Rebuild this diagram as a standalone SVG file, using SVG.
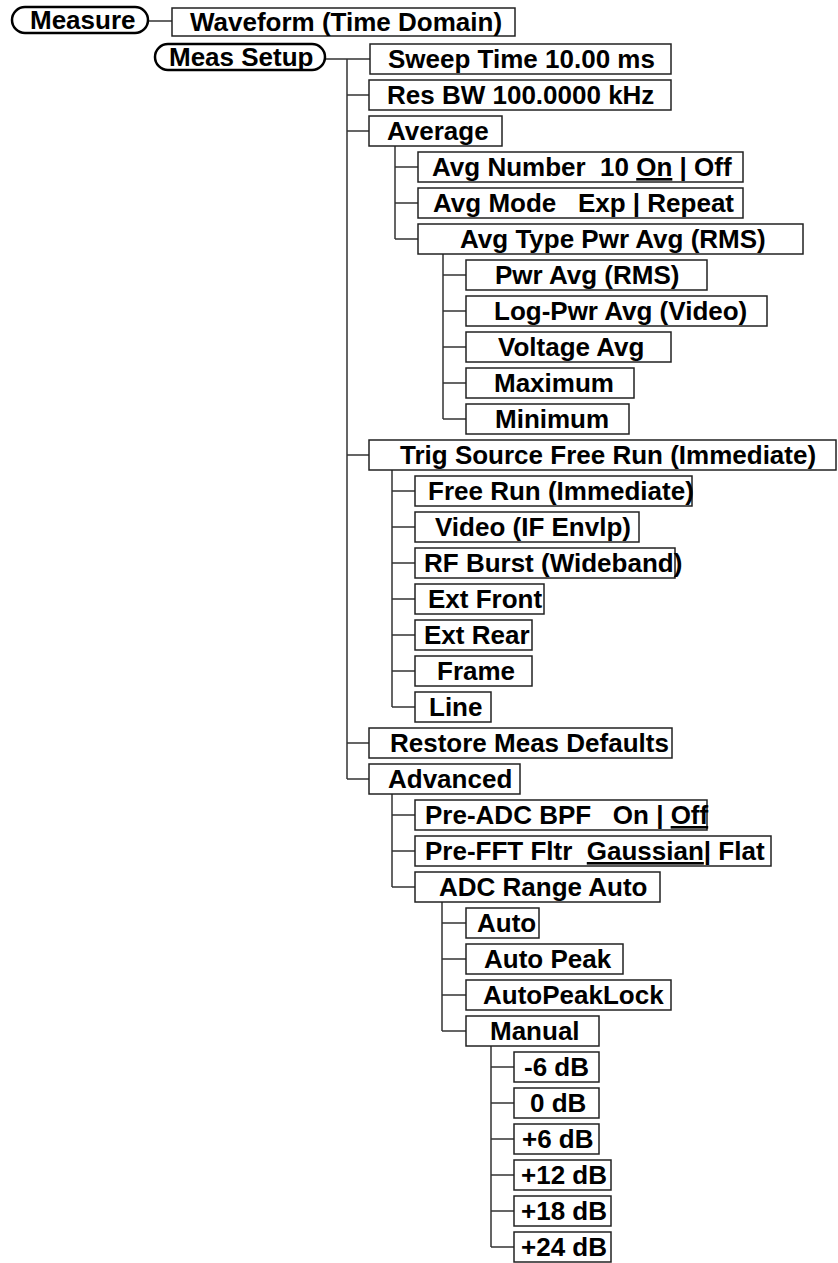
<svg xmlns="http://www.w3.org/2000/svg" width="838" height="1263" viewBox="0 0 838 1263" xml:space="preserve">
<style>
.b{fill:#fff;stroke:#222;stroke-width:1.5}
.p{fill:#fff;stroke:#000;stroke-width:2.5}
.t{font-family:"Liberation Sans",Arial,sans-serif;font-weight:bold;font-size:26px;fill:#000;white-space:pre}
.c{fill:none;stroke:#333;stroke-width:1.5}
.u{text-decoration:underline}
</style>
<rect width="838" height="1263" fill="#fff"/>
<g id="connectors">
<path class="c" d="M148 21H172"/>
<path class="c" d="M325 59H370M347 59V779M347 95H369M347 131H369M347 455H369M347 743H369M347 779H369"/>
<path class="c" d="M395 146V239M395 167H418M395 203H418M395 239H418"/>
<path class="c" d="M443 254V419M443 275H466M443 311H466M443 347H466M443 383H466M443 419H466"/>
<path class="c" d="M392 470V707M392 491H415M392 527H415M392 563H415M392 599H415M392 635H415M392 671H415M392 707H415"/>
<path class="c" d="M392 794V887M392 815H415M392 851H415M392 887H415"/>
<path class="c" d="M442 902V1031M442 923H466M442 959H466M442 995H466M442 1031H466"/>
<path class="c" d="M491 1046V1247M491 1067H514M491 1103H514M491 1139H514M491 1175H514M491 1211H514M491 1247H514"/>
</g>
<g id="measure"><rect class="p" x="12" y="7" width="136" height="26" rx="13"/><text class="t" x="30" y="29">Measure</text></g>
<g id="waveform"><rect class="b" x="172" y="8" width="343" height="28"/><text class="t" x="190" y="31">Waveform (Time Domain)</text></g>
<g id="meas-setup"><rect class="p" x="155" y="44" width="170" height="26" rx="13"/><text class="t" x="169" y="66">Meas Setup</text></g>
<g id="sweep-time"><rect class="b" x="370" y="44" width="301" height="30"/><text class="t" x="388" y="68">Sweep Time 10.00 ms</text></g>
<g id="res-bw"><rect class="b" x="369" y="80" width="302" height="30"/><text class="t" x="387" y="104">Res BW 100.0000 kHz</text></g>
<g id="average"><rect class="b" x="369" y="116" width="133" height="30"/><text class="t" x="387" y="140">Average</text></g>
<g id="avg-number"><rect class="b" x="418" y="152" width="325" height="30"/><text class="t" x="432" y="176">Avg Number  10 <tspan class="u">On</tspan> | Off</text></g>
<g id="avg-mode"><rect class="b" x="418" y="188" width="325" height="30"/><text class="t" x="433" y="212">Avg Mode   Exp | Repeat</text></g>
<g id="avg-type"><rect class="b" x="418" y="224" width="385" height="30"/><text class="t" x="460" y="248">Avg Type Pwr Avg (RMS)</text></g>
<g id="pwr-avg"><rect class="b" x="466" y="260" width="241" height="30"/><text class="t" x="495" y="284">Pwr Avg (RMS)</text></g>
<g id="log-pwr-avg"><rect class="b" x="466" y="296" width="301" height="30"/><text class="t" x="494" y="320">Log-Pwr Avg (Video)</text></g>
<g id="voltage-avg"><rect class="b" x="466" y="332" width="205" height="30"/><text class="t" x="498" y="356">Voltage Avg</text></g>
<g id="maximum"><rect class="b" x="466" y="368" width="168" height="30"/><text class="t" x="494" y="392">Maximum</text></g>
<g id="minimum"><rect class="b" x="466" y="404" width="163" height="30"/><text class="t" x="495" y="428">Minimum</text></g>
<g id="trig-source"><rect class="b" x="369" y="440" width="467" height="30"/><text class="t" x="400" y="464">Trig Source Free Run (Immediate)</text></g>
<g id="free-run"><rect class="b" x="415" y="476" width="277" height="30"/><text class="t" x="428" y="500">Free Run (Immediate)</text></g>
<g id="video"><rect class="b" x="415" y="512" width="224" height="30"/><text class="t" x="435" y="536">Video (IF Envlp)</text></g>
<g id="rf-burst"><rect class="b" x="415" y="548" width="260" height="30"/><text class="t" x="424" y="572">RF Burst (Wideband)</text></g>
<g id="ext-front"><rect class="b" x="415" y="584" width="129" height="30"/><text class="t" x="428" y="608">Ext Front</text></g>
<g id="ext-rear"><rect class="b" x="415" y="620" width="117" height="30"/><text class="t" x="424" y="644">Ext Rear</text></g>
<g id="frame"><rect class="b" x="415" y="656" width="117" height="30"/><text class="t" x="437" y="680">Frame</text></g>
<g id="line"><rect class="b" x="415" y="692" width="76" height="30"/><text class="t" x="429" y="716">Line</text></g>
<g id="restore"><rect class="b" x="369" y="728" width="303" height="30"/><text class="t" x="390" y="752">Restore Meas Defaults</text></g>
<g id="advanced"><rect class="b" x="369" y="764" width="151" height="30"/><text class="t" x="388" y="788">Advanced</text></g>
<g id="pre-adc"><rect class="b" x="415" y="800" width="292" height="30"/><text class="t" x="425" y="824">Pre-ADC BPF   On | <tspan class="u">Off</tspan></text></g>
<g id="pre-fft"><rect class="b" x="415" y="836" width="356" height="30"/><text class="t" x="425" y="860">Pre-FFT Fltr  <tspan class="u">Gaussian</tspan>| Flat</text></g>
<g id="adc-range"><rect class="b" x="415" y="872" width="245" height="30"/><text class="t" x="439" y="896">ADC Range Auto</text></g>
<g id="auto"><rect class="b" x="466" y="908" width="73" height="30"/><text class="t" x="477" y="932">Auto</text></g>
<g id="auto-peak"><rect class="b" x="466" y="944" width="157" height="30"/><text class="t" x="484" y="968">Auto Peak</text></g>
<g id="autopeaklock"><rect class="b" x="466" y="980" width="205" height="30"/><text class="t" x="483" y="1004">AutoPeakLock</text></g>
<g id="manual"><rect class="b" x="466" y="1016" width="133" height="30"/><text class="t" x="490" y="1040">Manual</text></g>
<g id="m6db"><rect class="b" x="514" y="1052" width="85" height="30"/><text class="t" x="524" y="1076">-6 dB</text></g>
<g id="0db"><rect class="b" x="514" y="1088" width="85" height="30"/><text class="t" x="530" y="1112">0 dB</text></g>
<g id="p6db"><rect class="b" x="514" y="1124" width="85" height="30"/><text class="t" x="522" y="1148">+6 dB</text></g>
<g id="p12db"><rect class="b" x="514" y="1160" width="97" height="30"/><text class="t" x="521" y="1184">+12 dB</text></g>
<g id="p18db"><rect class="b" x="514" y="1196" width="97" height="30"/><text class="t" x="521" y="1220">+18 dB</text></g>
<g id="p24db"><rect class="b" x="514" y="1232" width="97" height="30"/><text class="t" x="521" y="1256">+24 dB</text></g>
</svg>
